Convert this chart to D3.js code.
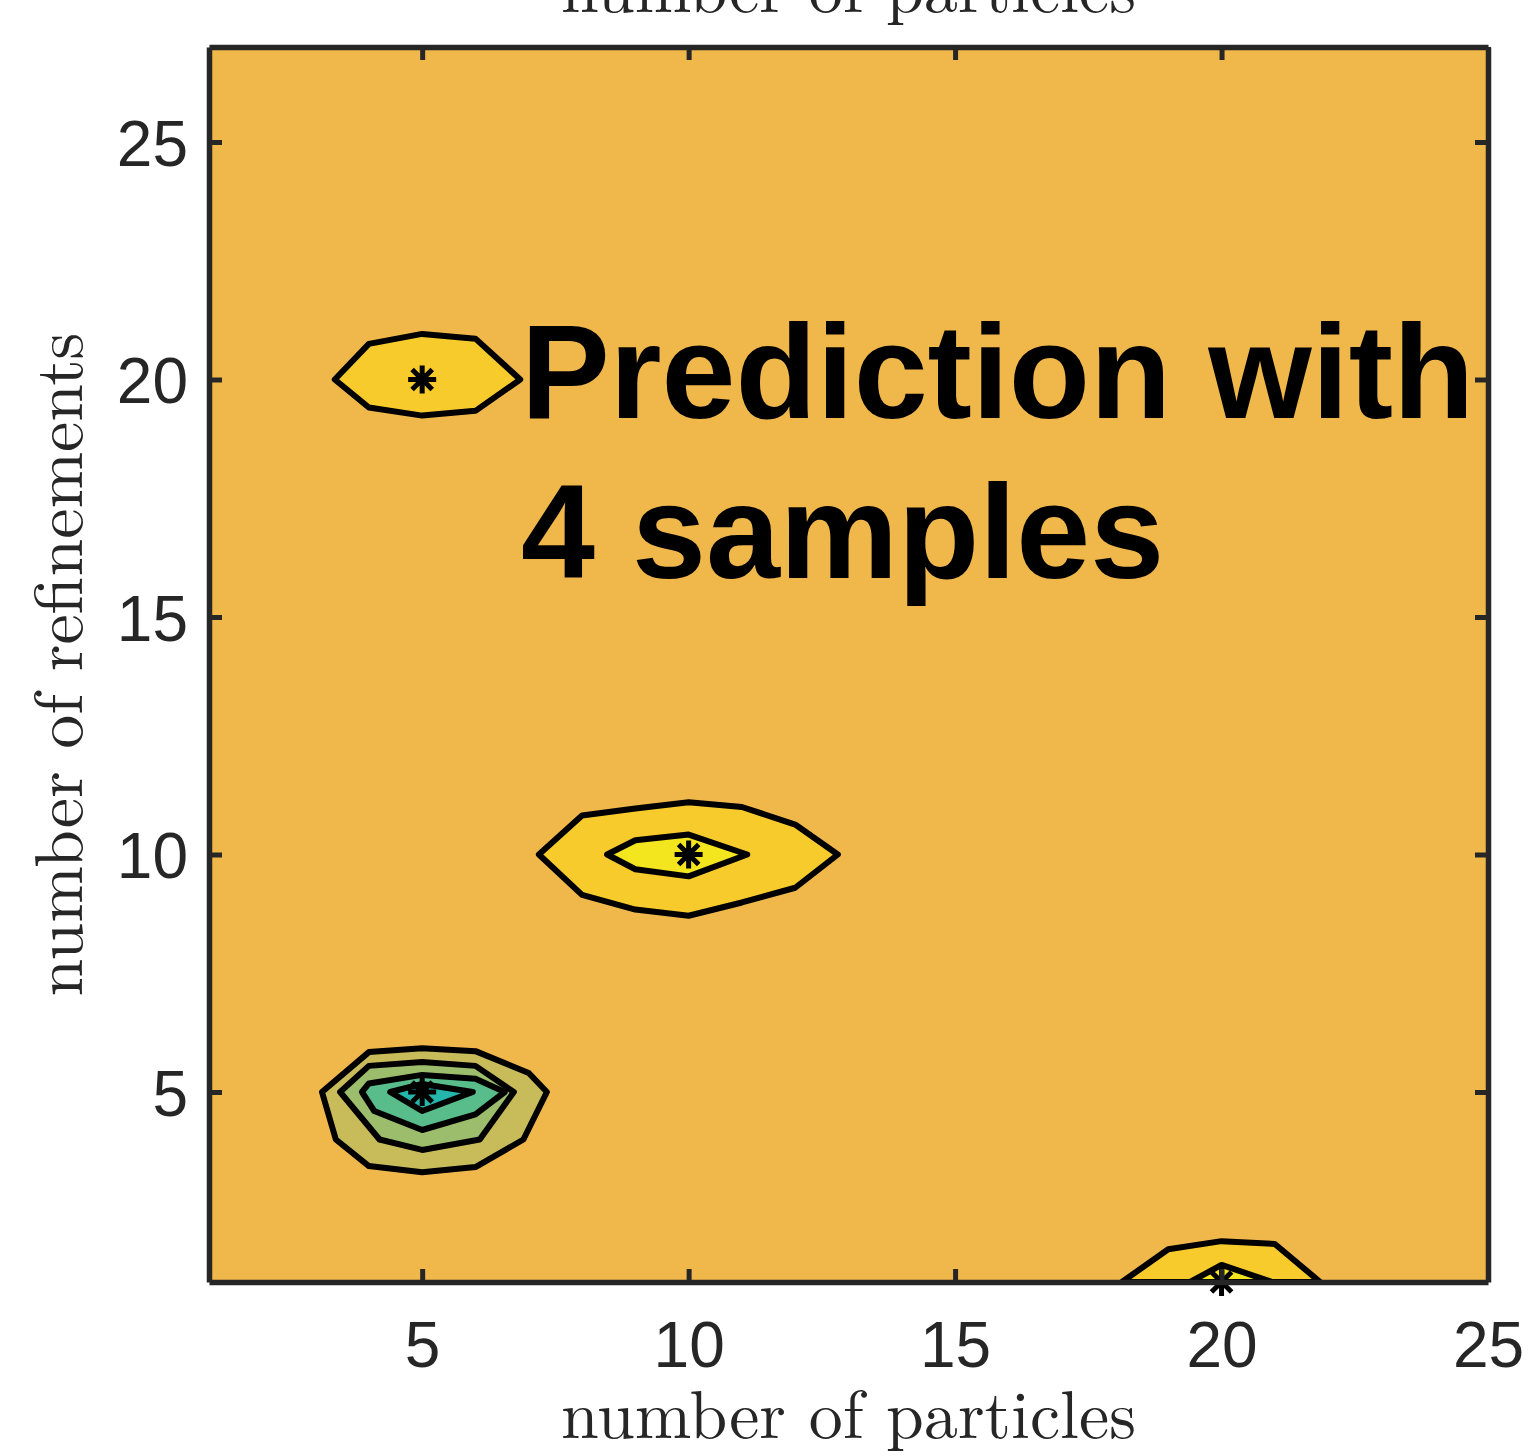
<!DOCTYPE html>
<html>
<head>
<meta charset="utf-8">
<script src="https://cdn.jsdelivr.net/npm/d3@7"></script>
<style>
  body { margin: 0; background: #ffffff; }
</style>
</head>
<body>
<div id="container"></div>
<script>
// axis ranges and ticks
let xDomain = [1, 25];
let yDomain = [1, 27];
let xTicks = [5, 10, 15, 20, 25];
let yTicks = [5, 10, 15, 20, 25];

// the 4 sample points (asterisks)
let sampleX = [5, 10, 5, 20];
let sampleY = [20, 10, 5, 1];

// contour lines, [particles, refinements]
let peak20 = [[3.36,20],[4,20.75],[5,20.96],[6,20.86],[6.84,20],[6,19.34],[5,19.24],[4,19.41]];
let peak10outer = [[7.19,10],[8,10.82],[9,10.97],[10,11.1],[11,11.0],[12,10.63],[12.8,10],[12,9.3],[11,8.99],[10,8.71],[9,8.84],[8,9.15]];
let peak10inner = [[8.47,10],[9,10.3],[10,10.42],[11.1,10],[10,9.54],[9,9.69]];
let dip5ring1 = [[3.12,5],[4,5.84],[5,5.92],[6,5.86],[7,5.4],[7.34,5],[6.9,4],[6,3.42],[5,3.31],[4,3.44],[3.38,4]];
let dip5ring2 = [[3.46,5],[4,5.55],[5,5.63],[6,5.55],[6.72,5],[6.08,4],[5,3.78],[4.2,4]];
let dip5ring3 = [[3.87,5],[4,5.18],[5,5.36],[6,5.28],[6.55,5],[6,4.53],[5,4.2],[4.1,4.6]];
let dip5ring4 = [[4.4,5],[5,5.17],[5.95,5],[5,4.6]];
let peak1outer = [[18.13,1],[19,1.69],[20,1.86],[21,1.8],[21.85,1]];
let peak1inner = [[19.41,1],[20,1.36],[20.95,1]];

// band that each contour encloses (0 = background level)
let contourLines = [peak20, peak10outer, peak10inner, dip5ring1, dip5ring2, dip5ring3, dip5ring4, peak1outer, peak1inner];
let contourBands = [1, 1, 2, -1, -2, -3, -4, 1, 2];

// parula-ish colours per band
let bandValues = [-4, -3, -2, -1, 0, 1, 2];
let bandColors = ["#25b5ab", "#58bd8b", "#9cbe6c", "#c8bb5a", "#f0b84b", "#f8cb2d", "#f3e51e"];

let w = 1536;
let h = 1456;
let plotLeft = 209, plotRight = 1488, plotTop = 47, plotBottom = 1282;
let axisColor = "#262626";

let svg = d3.select("#container")
  .append("svg")
    .attr("width", w)
    .attr("height", h)
    .style("display", "block");

let xScale = d3.scaleLinear().domain(xDomain).range([plotLeft, plotRight]);
let yScale = d3.scaleLinear().domain(yDomain).range([plotBottom, plotTop]);
let colorScale = d3.scaleOrdinal(bandValues, bandColors);

svg.append("clipPath").attr("id", "plotclip")
  .append("rect")
    .attr("x", plotLeft).attr("y", plotTop)
    .attr("width", plotRight - plotLeft).attr("height", plotBottom - plotTop);

// background band
svg.append("rect")
  .attr("x", plotLeft).attr("y", plotTop)
  .attr("width", plotRight - plotLeft).attr("height", plotBottom - plotTop)
  .attr("fill", colorScale(0));

let line = d3.line()
  .x(function(d){ return xScale(d[0]); })
  .y(function(d){ return yScale(d[1]); })
  .curve(d3.curveLinearClosed);

let contourGroup = svg.append("g").attr("clip-path", "url(#plotclip)");
contourGroup.selectAll("path")
  .data(contourLines)
  .enter()
  .append("path")
    .attr("d", line)
    .attr("fill", function(d, i){ return colorScale(contourBands[i]); })
    .attr("stroke", "#000")
    .attr("stroke-width", 6)
    .attr("stroke-linejoin", "round");

// asterisk markers
let r = 14, rd = r * 0.72;
let asterisk = "M" + (-r) + ",0H" + r + "M0," + (-r) + "V" + r +
  "M" + (-rd) + "," + (-rd) + "L" + rd + "," + rd +
  "M" + (-rd) + "," + rd + "L" + rd + "," + (-rd);
svg.append("g").selectAll("path")
  .data(sampleX)
  .enter()
  .append("path")
    .attr("d", asterisk)
    .attr("transform", function(d, i){ return "translate(" + xScale(d) + "," + yScale(sampleY[i]) + ")"; })
    .attr("fill", "none")
    .attr("stroke", "#000")
    .attr("stroke-width", 5);

// big annotation
let note = svg.append("text")
  .attr("font-family", "'Liberation Sans', Arial, Helvetica, sans-serif")
  .attr("font-weight", "bold")
  .attr("font-size", "133px")
  .attr("fill", "#000");
note.append("tspan").attr("x", 521).attr("y", 418).text("Prediction with");
note.append("tspan").attr("x", 521).attr("y", 578).text("4 samples");

// axes (MATLAB style box, inward ticks)
function styleAxis(g){
  g.select(".domain").attr("stroke", axisColor).attr("stroke-width", 5.5);
  g.selectAll(".tick line").attr("stroke", axisColor).attr("stroke-width", 5);
  g.selectAll(".tick text")
    .attr("fill", axisColor)
    .attr("font-family", "'Liberation Sans', Arial, Helvetica, sans-serif")
    .attr("font-size", "64px");
}

let xAxis = svg.append("g")
  .attr("transform", "translate(0," + plotBottom + ")")
  .call(d3.axisBottom(xScale).tickValues(xTicks).tickSize(-13).tickSizeOuter(0).tickPadding(40));
styleAxis(xAxis);

let xAxisTop = svg.append("g")
  .attr("transform", "translate(0," + plotTop + ")")
  .call(d3.axisTop(xScale).tickValues(xTicks).tickSize(-13).tickSizeOuter(0).tickFormat(""));
styleAxis(xAxisTop);

let yAxis = svg.append("g")
  .attr("transform", "translate(" + plotLeft + ",0)")
  .call(d3.axisLeft(yScale).tickValues(yTicks).tickSize(-13).tickSizeOuter(0).tickPadding(21));
styleAxis(yAxis);
yAxis.selectAll(".tick text").attr("dy", "0.36em");

let yAxisRight = svg.append("g")
  .attr("transform", "translate(" + plotRight + ",0)")
  .call(d3.axisRight(yScale).tickValues(yTicks).tickSize(-13).tickSizeOuter(0).tickFormat(""));
styleAxis(yAxisRight);

// axis labels (LaTeX serif look)
let serif = "'Latin Modern Roman', 'CMU Serif', 'Liberation Serif', 'Times New Roman', serif";
svg.append("text")
  .attr("x", (plotLeft + plotRight) / 2)
  .attr("y", 1438)
  .attr("text-anchor", "middle")
  .attr("font-family", serif)
  .attr("font-size", "68px")
  .attr("fill", axisColor)
  .text("number of particles");

// title row cut by the page top, as in the original export
svg.append("text")
  .attr("x", (plotLeft + plotRight) / 2)
  .attr("y", 12)
  .attr("text-anchor", "middle")
  .attr("font-family", serif)
  .attr("font-size", "68px")
  .attr("fill", axisColor)
  .text("number of particles");

svg.append("text")
  .attr("transform", "translate(82," + ((plotTop + plotBottom) / 2) + ") rotate(-90)")
  .attr("text-anchor", "middle")
  .attr("font-family", serif)
  .attr("font-size", "68px")
  .attr("fill", axisColor)
  .text("number of refinements");
</script>
</body>
</html>
